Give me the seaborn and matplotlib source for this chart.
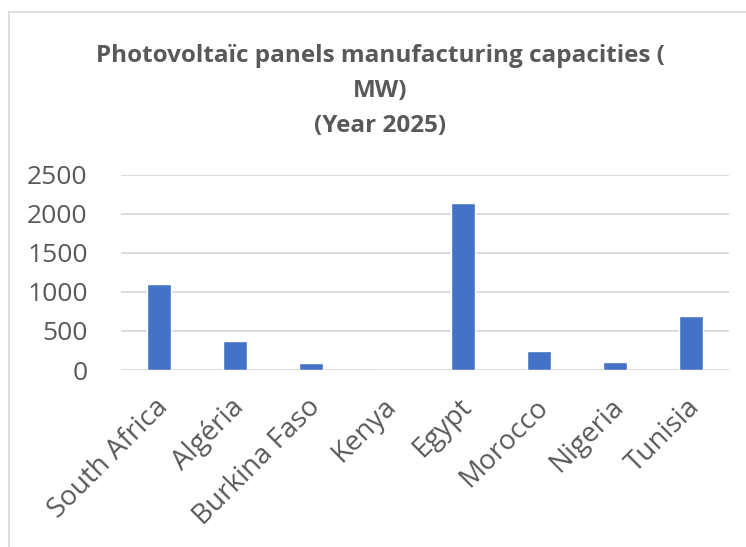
import matplotlib
matplotlib.use("Agg")
import matplotlib.pyplot as plt
from matplotlib.lines import Line2D
from matplotlib.transforms import ScaledTranslation
import seaborn as sns
import pandas as pd

countries = ["South Africa", "Algéria", "Burkina Faso", "Kenya", "Egypt", "Morocco", "Nigeria", "Tunisia"]
capacity_mw = [1100, 375, 95, 5, 2145, 245, 100, 695]
y_ticks = [0, 500, 1000, 1500, 2000, 2500]
title_text = "Photovoltaïc panels manufacturing capacities (\nMW)\n(Year 2025)"

sns.set_style("white")
plt.rcParams["font.family"] = ["Open Sans", "DejaVu Sans"]

df = pd.DataFrame({"country": countries, "capacity": capacity_mw})

W, H = 746, 547
fig = plt.figure(figsize=(W / 100, H / 100), dpi=100)
ax = fig.add_axes([121 / W, 1 - 370 / H, (729 - 121) / W, (370 - 175) / H])

sns.barplot(data=df, x="country", y="capacity", color="#4472C4", width=0.32,
            saturation=1, ax=ax, zorder=3)

ax.set_ylim(0, 2500)
ax.set_yticks(y_ticks)
ax.set_yticklabels([str(t) for t in y_ticks])
ax.set_xlabel("")
ax.set_ylabel("")
ax.yaxis.grid(True, color="#d9d9d9", linewidth=1.3, zorder=0)
ax.set_axisbelow(True)
for s in ax.spines.values():
    s.set_visible(False)
ax.tick_params(axis="both", length=0, colors="#595959")
ax.tick_params(axis="y", pad=24, labelsize=19)
ax.tick_params(axis="x", pad=16.5, labelsize=20)
shift = ScaledTranslation(-5 / 100, 0, fig.dpi_scale_trans)
for lab in ax.get_xticklabels():
    lab.set_rotation(45)
    lab.set_ha("right")
    lab.set_va("top")
    lab.set_rotation_mode("anchor")
    lab.set_transform(lab.get_transform() + shift)

fig.text(380 / W, 1 - 91 / H, title_text, ha="center", va="center", fontsize=17.5,
         fontweight="bold", color="#595959", linespacing=1.6,
         transform=fig.transFigure)

# chart area frame
fig.add_artist(Line2D([8.5 / W, 8.5 / W], [0, 1 - 12 / H], color="#d9d9d9", lw=1.2,
                      transform=fig.transFigure))
fig.add_artist(Line2D([8.5 / W, 1], [1 - 12 / H, 1 - 12 / H], color="#d9d9d9", lw=1.2,
                      transform=fig.transFigure))

fig.savefig("out.png", dpi=100)
